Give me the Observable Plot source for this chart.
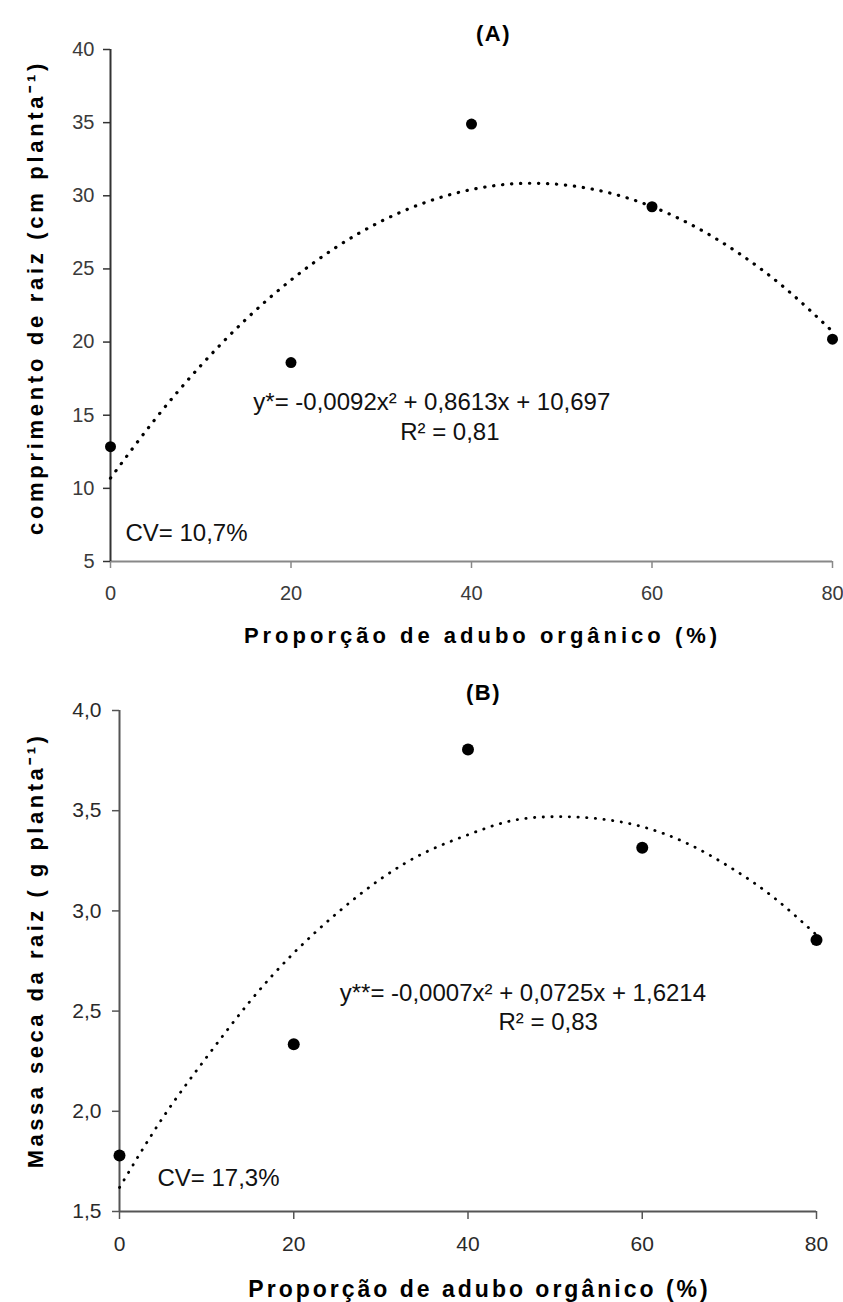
<!DOCTYPE html>
<html>
<head>
<meta charset="utf-8">
<script src="https://cdn.jsdelivr.net/npm/d3@7"></script>
<script src="https://cdn.jsdelivr.net/npm/@observablehq/plot@0.6"></script>
<style>
  body { margin: 0; background: #fff; }
  #chart { width: 843px; }
  #chart svg { display: block; }
</style>
</head>
<body>
<div id="chart"></div>
<script>
// ---- Data ----
const doses = [0, 20, 40, 60, 80];                       // Proporção de adubo orgânico (%)
const rootLength = [12.85, 18.6, 34.9, 29.25, 20.2];     // (A) comprimento de raiz (cm planta-1)
const rootMass = [1.78, 2.335, 3.805, 3.315, 2.855];     // (B) massa seca da raiz (g planta-1)

// dotted trend curves
const curveX = [0, 5, 10, 15, 20, 25, 30, 35, 40, 45, 50, 55, 60, 65, 70, 75, 80];
const rootLengthFit = [10.70, 14.77, 18.39, 21.55, 24.24, 26.48, 28.26, 29.57, 30.43, 30.83, 30.76, 30.24, 29.26, 27.81, 25.91, 23.55, 20.72];
const rootMassFit = [1.62, 1.97, 2.27, 2.55, 2.79, 2.99, 3.16, 3.29, 3.38, 3.45, 3.47, 3.46, 3.42, 3.34, 3.22, 3.07, 2.88];

const xTicks = [0, 20, 40, 60, 80];
const yTicksA = [5, 10, 15, 20, 25, 30, 35, 40];
const yTicksB = [1.5, 2.0, 2.5, 3.0, 3.5, 4.0];

const xLabel = "Proporção de adubo orgânico (%)";
const yLabelA = "comprimento de raiz (cm planta⁻¹)";
const yLabelB = "Massa seca da raiz ( g planta⁻¹)";
const eqA = ["y*= -0,0092x² + 0,8613x + 10,697", "R² = 0,81", "CV= 10,7%"];
const eqB = ["y**= -0,0007x² + 0,0725x + 1,6214", "R² = 0,83", "CV= 17,3%"];

const FONT = "'Liberation Sans', Arial, Helvetica, sans-serif";
const comma = d => d.toFixed(1).replace(".", ",");

function spaced(svg, texts, spacing) {
  svg.querySelectorAll("text").forEach(t => {
    if (texts.includes(t.textContent)) t.style.letterSpacing = spacing + "px";
  });
}

const lbl = {textAnchor: "middle", lineAnchor: "middle", fontWeight: "bold", fill: "#000"};

// ---- Panel A ----
const ptsA = doses.map((d, i) => ({x: d, y: rootLength[i]}));
const fitA = curveX.map((d, i) => ({x: d, y: rootLengthFit[i]}));
const plotA = Plot.plot({
  width: 843, height: 650,
  marginTop: 49, marginBottom: 89, marginLeft: 110, marginRight: 11,
  style: {fontFamily: FONT, background: "#fff", color: "#333"},
  x: {domain: [0, 80]},
  y: {domain: [5, 40]},
  marks: [
    Plot.axisX({ticks: xTicks, tickSize: 7, tickPadding: 17, fontSize: 20, label: null, stroke: "#888", fill: "#3a3a3a", strokeWidth: 1.5, tickFormat: d => String(d)}),
    Plot.axisY({ticks: yTicksA, tickSize: 7, tickPadding: 9, fontSize: 20, label: null, stroke: "#333", fill: "#3a3a3a", strokeWidth: 1.5, tickFormat: d => String(d)}),
    Plot.ruleY([5], {stroke: "#888", strokeWidth: 2}),
    Plot.ruleX([0], {stroke: "#333", strokeWidth: 2}),
    Plot.line(fitA, {x: "x", y: "y", curve: "natural", stroke: "#000", strokeWidth: 3.2, strokeLinecap: "round", strokeDasharray: "0.3,8.7"}),
    Plot.dot(ptsA, {x: "x", y: "y", r: 5.5, fill: "#000"}),
    Plot.text([eqA[0]], {x: 35.6, y: 15.87, fontSize: 24, fill: "#111", textAnchor: "middle"}),
    Plot.text([eqA[1]], {x: 37.6, y: 13.82, fontSize: 24, fill: "#111", textAnchor: "middle"}),
    Plot.text([eqA[2]], {x: 1.66, y: 6.91, fontSize: 24, fill: "#111", textAnchor: "start"}),
    Plot.text(["(A)"], {...lbl, frameAnchor: "top", dx: 22, dy: -16, fontSize: 22}),
    Plot.text([xLabel], {...lbl, frameAnchor: "bottom", dx: 11, dy: 74, fontSize: 22}),
    Plot.text([yLabelA], {...lbl, frameAnchor: "left", dx: -75, dy: -8, rotate: -90, fontSize: 22})
  ]
});
spaced(plotA, [xLabel], 4);
spaced(plotA, [yLabelA], 3.7);
spaced(plotA, ["(A)"], 1.5);

// ---- Panel B ----
const ptsB = doses.map((d, i) => ({x: d, y: rootMass[i]}));
const fitB = curveX.map((d, i) => ({x: d, y: rootMassFit[i]}));
const plotB = Plot.plot({
  width: 843, height: 652,
  marginTop: 60, marginBottom: 91, marginLeft: 119, marginRight: 27,
  style: {fontFamily: FONT, background: "#fff", color: "#333"},
  x: {domain: [0, 80]},
  y: {domain: [1.5, 4.0]},
  marks: [
    Plot.axisX({ticks: xTicks, tickSize: 8, tickPadding: 17, fontSize: 21, label: null, stroke: "#555", fill: "#2a2a2a", strokeWidth: 1.5, tickFormat: d => String(d)}),
    Plot.axisY({ticks: yTicksB, tickSize: 7, tickPadding: 11, fontSize: 21, label: null, stroke: "#555", fill: "#2a2a2a", strokeWidth: 1.5, tickFormat: comma}),
    Plot.ruleY([1.5], {stroke: "#555", strokeWidth: 2}),
    Plot.ruleX([0], {stroke: "#555", strokeWidth: 2}),
    Plot.line(fitB, {x: "x", y: "y", curve: "natural", stroke: "#000", strokeWidth: 2.8, strokeLinecap: "round", strokeDasharray: "0.3,8.4"}),
    Plot.dot(ptsB, {x: "x", y: "y", r: 6, fill: "#000"}),
    Plot.text([eqB[0]], {x: 46.3, y: 2.589, fontSize: 24, fill: "#111", textAnchor: "middle"}),
    Plot.text([eqB[1]], {x: 49.2, y: 2.443, fontSize: 24, fill: "#111", textAnchor: "middle"}),
    Plot.text([eqB[2]], {x: 4.36, y: 1.665, fontSize: 24, fill: "#111", textAnchor: "start"}),
    Plot.text(["(B)"], {...lbl, frameAnchor: "top", dx: 15.5, dy: -18, fontSize: 22}),
    Plot.text([xLabel], {...lbl, frameAnchor: "bottom", dx: 11.5, dy: 78, fontSize: 23}),
    Plot.text([yLabelB], {...lbl, frameAnchor: "left", dx: -84, dy: -10.5, rotate: -90, fontSize: 22})
  ]
});
spaced(plotB, [xLabel], 3);
spaced(plotB, [yLabelB], 3.5);
spaced(plotB, ["(B)"], 1.5);

const root = document.getElementById("chart");
root.appendChild(plotA);
root.appendChild(plotB);
</script>
</body>
</html>
